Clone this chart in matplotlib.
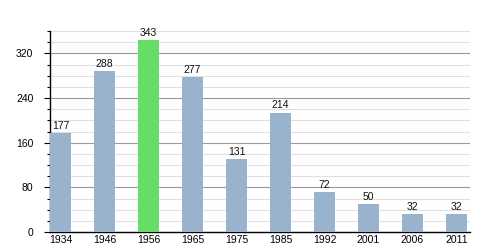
import matplotlib
matplotlib.use("Agg")
import matplotlib.pyplot as plt
from matplotlib.ticker import MultipleLocator

years = ["1934", "1946", "1956", "1965", "1975", "1985", "1992", "2001", "2006", "2011"]
values = [177, 288, 343, 277, 131, 214, 72, 50, 32, 32]
highlight = "1956"

plt.rcParams['font.family'] = ['Liberation Sans', 'DejaVu Sans']

fig = plt.figure(figsize=(5, 2.5), dpi=100)
ax = fig.add_axes([0.1, 0.072, 0.84, 0.804])

colors = ["#66dd66" if y == highlight else "#9ab3cc" for y in years]
x = list(range(len(years)))
ax.bar(x, values, width=0.477, color=colors, zorder=3)
for xi, v in zip(x, values):
    ax.text(xi, v + 4, str(v), ha="center", va="bottom", fontsize=7.5, color="#111111", zorder=4)

ax.set_xlim(-0.2386, 9.307)
ax.set_ylim(0, 360)
ax.yaxis.set_major_locator(MultipleLocator(80))
ax.yaxis.set_minor_locator(MultipleLocator(20))
ax.grid(axis="y", which="major", color="#999999", linewidth=0.8, zorder=0)
ax.grid(axis="y", which="minor", color="#e0e0e0", linewidth=0.8, zorder=0)
ax.set_xticks(x)
ax.set_xticklabels(years)
ax.tick_params(axis="x", length=0, labelsize=7.5, pad=2)
ax.tick_params(axis="y", which="major", length=4, width=0.8, labelsize=7.5, pad=8)
ax.tick_params(axis="y", which="minor", length=2, width=0.8)
for s in ["top", "right"]:
    ax.spines[s].set_visible(False)
ax.spines["left"].set_linewidth(1)
ax.spines["bottom"].set_linewidth(1)

fig.savefig("out.png", dpi=100)
